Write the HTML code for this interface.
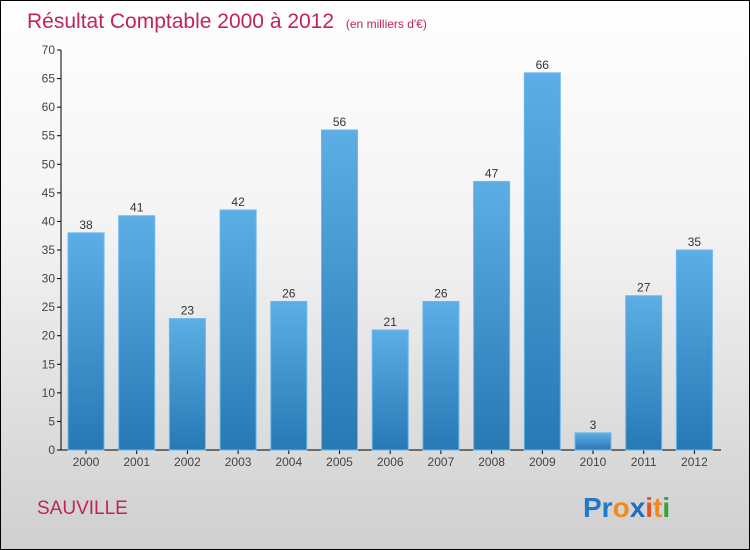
<!DOCTYPE html>
<html><head><meta charset="utf-8"><style>
body{margin:0}
#c{position:relative;width:748px;height:548px;border:1px solid #000;background:linear-gradient(#fefefe,#f4f4f4 40%,#cfcfcf);font-family:"Liberation Sans",sans-serif;overflow:hidden}
</style></head><body>
<div id="c">
<svg id="s" width="748" height="548" xmlns="http://www.w3.org/2000/svg">
<defs><linearGradient id="g" x1="0" y1="0" x2="0" y2="1"><stop offset="0" stop-color="#5dade6"/><stop offset="1" stop-color="#2878b4"/></linearGradient></defs>
<text x="26" y="27" font-size="21" fill="#c0245a">Résultat Comptable 2000 à 2012 <tspan font-size="12" dx="6">(en milliers d'€)</tspan></text>
<text x="36" y="513" font-size="19" fill="#c0245a">SAUVILLE</text>
<g font-size="28" font-weight="bold" font-family="Liberation Sans, sans-serif"><text x="582" y="516"><tspan fill="#1f78c8">Pr</tspan><tspan fill="#f08a1c">o</tspan><tspan fill="#1f6ec0">x</tspan><tspan fill="#e8501c">i</tspan><tspan fill="#f08a1c">t</tspan><tspan fill="#3aa03a">i</tspan></text></g>
<g id="ax"></g><g id="bars"></g>
</svg>
</div>
<script>
const years=["2000","2001","2002","2003","2004","2005","2006","2007","2008","2009","2010","2011","2012"];
const values=[38,41,23,42,26,56,21,26,47,66,3,27,35];
const ticks=[0,5,10,15,20,25,30,35,40,45,50,55,60,65,70];
const NS="http://www.w3.org/2000/svg";
const y0=449,pxu=400/70,x0=85,step=50.7,bw=36;
const y=v=>y0-v*pxu, x=i=>x0+i*step;
function mk(t,a,p){const e=document.createElementNS(NS,t);for(const k in a)e.setAttribute(k,a[k]);p.appendChild(e);return e;}
const ax=document.getElementById('ax'),bars=document.getElementById('bars');
let l=mk('line',{x1:60,y1:y(70),x2:60,y2:y0,stroke:'#000'},ax);


l=mk('line',{x1:60,y1:y0,x2:720,y2:y0,stroke:'#000'},ax);


ticks.forEach(t=>{
 mk('line',{x1:56,x2:60,y1:y(t),y2:y(t),stroke:'#000'},ax);
 const tx=mk('text',{x:54,y:y(t)+4,'text-anchor':'end','font-size':12,fill:'#444'},ax);
 tx.textContent=t;
 
 
});
years.forEach((yr,i)=>{
 const v=values[i];
 const r=mk('rect',{x:x(i)-bw/2,y:y(v),width:bw,height:y0-y(v),fill:'url(#g)',stroke:'#6bb8ee','stroke-width':1},bars);
 
 
 const lb=mk('text',{x:x(i),y:y(v)-4,'text-anchor':'middle','font-size':12,fill:'#333'},bars);
 lb.textContent=v;
 
 
 mk('line',{x1:x(i),x2:x(i),y1:y0,y2:y0+4,stroke:'#000'},ax);
 const xl=mk('text',{x:x(i),y:y0+16,'text-anchor':'middle','font-size':12,fill:'#444'},ax);
 xl.textContent=yr;
 
 
});
</script>
</body></html>
